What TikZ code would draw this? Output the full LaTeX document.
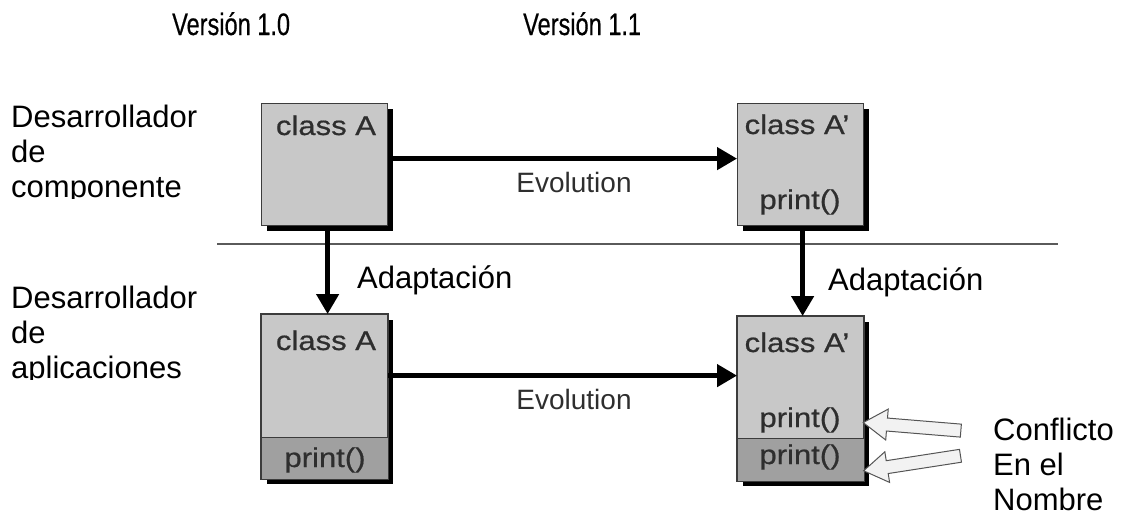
\documentclass[tikz,border=0pt]{standalone}
\usepackage{fontspec}
\setmainfont{Liberation Sans}
\newfontfamily\heavysans[FakeBold=0.6]{Liberation Sans}
\usetikzlibrary{arrows.meta,shadows,shapes.arrows}

\definecolor{boxfill}{HTML}{C8C8C8}
\definecolor{boxlow}{HTML}{A0A0A0}
\definecolor{boxedge}{HTML}{3C3C3C}
\definecolor{boxtext}{HTML}{2E2E2E}
\definecolor{rulegray}{HTML}{5A5A5A}
\definecolor{hintfill}{HTML}{F2F2F2}
\definecolor{hintedge}{HTML}{555555}

\begin{document}
\begin{tikzpicture}[x=1pt,y=-1pt,
  classbox/.style={draw=boxedge, line width=1.2pt, fill=boxfill,
    minimum width=126pt, inner sep=0pt, anchor=north west,
    drop shadow={shadow xshift=5pt, shadow yshift=-5pt, fill=black, opacity=1}},
  boxlabel/.style={font=\heavysans\fontsize{27}{30}\selectfont, text=boxtext, inner sep=0pt, anchor=base},
  heading/.style={font=\fontsize{31}{35}\selectfont, inner sep=0pt, anchor=base west, align=left},
  flow/.style={line width=4.5pt, -{Triangle[length=20pt,width=22pt]}},
  flowlabel/.style={font=\fontsize{28}{30}\selectfont, text=boxtext, inner sep=0pt, anchor=base},
  hint/.style={single arrow, draw=hintedge, fill=hintfill, line width=1pt,
    minimum width=30pt, minimum height=98pt, single arrow head extend=9pt,
    single arrow tip angle=66, inner xsep=0pt, inner ysep=6pt},
]
\useasboundingbox (0,0) rectangle (1123,515);

% column headings
\node[heading] (v10) at (172,35) {\scalebox{0.76}[1]{\heavysans\fontsize{31}{35}\selectfont Versión 1.0}};
\node[heading] (v11) at (523,35) {\scalebox{0.76}[1]{\heavysans\fontsize{31}{35}\selectfont Versión 1.1}};

% row headings (cut off at the bottom of their band); anchored on the last line
\begin{scope}
  \clip (0,60) rectangle (240,198);
  \node[heading] (devcomp) at (11,197) {Desarrollador\\de\\componente};
\end{scope}
\begin{scope}
  \clip (0,250) rectangle (240,379);
  \node[heading] (devapp) at (11,378) {Desarrollador\\de\\aplicaciones};
\end{scope}

% separator between the two roles
\draw[rulegray, line width=1.5pt] (217,244) -- (1058,244);

% classes
\node[classbox, minimum height=122pt] (tl) at (261,103) {};
\node[classbox, minimum height=122pt] (tr) at (737,103) {};
\node[classbox, minimum height=164pt] (bl) at (261,314) {};
\node[classbox, minimum height=164pt] (br) at (737,316) {};

% inherited method compartments
\fill[boxlow] ([yshift=42pt]bl.south west) rectangle (bl.south east);
\draw[boxedge, line width=1.2pt] ([yshift=42pt]bl.south west) -- ([yshift=42pt]bl.south east);
\draw[boxedge, line width=1.2pt] (bl.south west) rectangle (bl.north east);
\fill[boxlow] ([yshift=43pt]br.south west) rectangle (br.south east);
\draw[boxedge, line width=1.2pt] ([yshift=43pt]br.south west) -- ([yshift=43pt]br.south east);
\draw[boxedge, line width=1.2pt] (br.south west) rectangle (br.north east);

% class contents
\node[boxlabel] (tlname) at (326,135) {\scalebox{1.15}[1]{class A}};
\node[boxlabel] (trname) at (797,134) {\scalebox{1.15}[1]{class A’}};
\node[boxlabel] (trprint) at (800,209) {\scalebox{1.15}[1]{print()}};
\node[boxlabel] (blname) at (326,350) {\scalebox{1.15}[1]{class A}};
\node[boxlabel] (blprint) at (325,467) {\scalebox{1.15}[1]{print()}};
\node[boxlabel] (brname) at (797,352) {\scalebox{1.15}[1]{class A’}};
\node[boxlabel] (brprintA) at (800,427) {\scalebox{1.15}[1]{print()}};
\node[boxlabel] (brprintB) at (800,464) {\scalebox{1.15}[1]{print()}};

% evolution arrows
\draw[flow] ([yshift=6pt]tl.east) -- ([yshift=6pt]tl.east -| tr.west);
\draw[flow] ([yshift=21pt]bl.east) -- ([yshift=21pt]bl.east -| br.west);
\node[flowlabel] (evtop) at (574,192) {Evolution};
\node[flowlabel] (evbot) at (574,409) {Evolution};

% adaptation arrows
\draw[flow] ([xshift=3pt]tl.south) -- ([xshift=3pt]bl.north);
\draw[flow] ([xshift=2pt]tr.south) -- ([xshift=2pt]br.north);
\node[heading] (adleft) at (357,288) {Adaptación};
\node[heading] (adright) at (828,290) {Adaptación};

% name conflict markers
\node[hint, rotate=175.3] (hintA) at (917,427) {};
\node[hint, rotate=188.8] (hintB) at (917,462.5) {};
\node[heading, text depth=0pt] (conflict) at (993,510) {Conflicto\\En el\\Nombre};
\end{tikzpicture}
\end{document}
